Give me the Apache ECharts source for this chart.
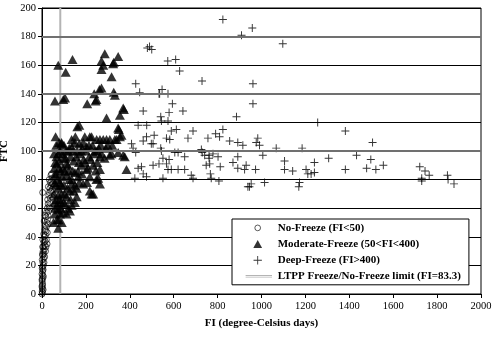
<!DOCTYPE html>
<html>
<head>
<meta charset="utf-8">
<script src="https://cdn.jsdelivr.net/npm/echarts@6/dist/echarts.min.js"></script>
<style>html,body{margin:0;padding:0;background:#fff}#c{width:495px;height:337px}</style>
</head>
<body>
<div id="c"></div>
<script>
// ---- data (FI, FTC) ----
var noFreeze = [
  [0,0],[1,2],[2,4],[0,5],[3,7],[1,9],[2,11],[4,13],[0,14],[3,16],[5,17],[2,19],[6,20],[4,22],[1,24],
  [7,25],[3,27],[8,28],[5,30],[10,31],[6,33],[12,34],[9,36],[14,37],[4,38],[11,40],[16,41],[8,42],
  [18,44],[13,45],[20,47],[15,48],[22,50],[10,51],[25,52],[18,54],[27,55],[21,57],[30,58],[24,60],
  [32,61],[28,63],[35,64],[26,66],[38,67],[31,69],[3,71],[34,71],[40,72],[36,74],[29,75],[42,76],
  [38,78],[44,79],[33,80],[46,81],[41,83],[44,84],[48,77],[12,26],[16,30],[20,38],[24,43],[9,22],
  [6,12],[2,1],[1,6],[5,3],[18,33],[28,49],[23,35],[14,55],[36,60],[45,68],[47,73],[0,10],[1,18],[2,28],[3,33]
];
var moderateFreeze = [
  [74,160],[108,155],[139,164],[59,135],[105,137],[97,136],[286,168],[271,163],[279,160],[271,157],
  [347,166],[327,162],[317,152],[271,144],[262,143],[238,140],[248,136],[206,133],[327,141],[332,139],
  [370,130],[355,125],[294,123],[170,118],[161,117],[347,116],[362,111],[89,106],[135,108],[188,106],
  [218,110],[249,108],[279,108],[309,108],[332,108],[355,110],[135,103],[170,105],[203,103],[82,100],
  [120,100],[173,98],[241,100],[271,98],[317,98],[370,97],[74,98],[309,97],[347,99],[377,96],[264,96],
  [385,87],[67,91],[112,91],[233,90],[203,87],[264,87],[59,84],[112,83],[165,82],[218,82],[256,81],
  [82,78],[135,77],[188,77],[264,77],[74,74],[158,74],[218,72],[233,70],[127,72],[74,69],[112,68],
  [158,68],[59,64],[105,63],[150,64],[74,59],[127,58],[82,56],[74,46],[89,105],[150,106],[226,110],
  [264,108],[294,108],[340,108],[248,80],[226,70],[244,135],[373,129],[350,115],[324,161],
  [100,95],[145,93],[190,94],[95,88],[140,86],[180,90],[215,96],[230,104],[200,100],[60,92],[85,86],
  [125,80],[100,76],[150,85],[170,78],[205,78],[245,86],[290,102],[120,60],[95,57],[135,62],[62,76],
  [90,70],[110,100],[160,100],[195,110],[250,100],[285,95],[100,104],[65,104],[55,98],[70,80],[55,70],
  [85,64],[68,52],[60,60],
  [58,78],[66,84],[78,88],[92,82],[104,86],[118,90],[130,96],[142,100],[156,96],[168,92],[182,84],
  [196,92],[210,88],[222,94],[236,98],[252,92],[268,104],[300,104],[320,104],[66,96],[80,93],[94,98],
  [108,95],[122,86],[136,80],[150,76],[164,86],[178,100],[56,88],[88,76],[102,70],[116,74],[130,66],
  [144,72],[86,60],[98,64],[112,56],[64,66],[76,52],[90,50],[58,56],[70,62],[52,50],[80,66],[124,102],
  [152,110],[184,102],[214,104],[258,102],[62,110],[78,106]
];
var deepFreeze = [
  [824,192],[958,186],[909,181],[1097,175],[480,172],[500,171],[490,173],[573,163],[609,164],[627,156],
  [427,147],[729,149],[961,147],[445,141],[533,140],[547,143],[536,140],[574,140],[961,133],[594,133],
  [461,128],[579,127],[642,128],[886,124],[541,124],[1256,120],[544,121],[574,121],[438,118],[477,118],
  [1382,114],[589,114],[612,115],[688,114],[824,115],[791,112],[809,110],[476,110],[511,111],[567,109],
  [582,108],[665,109],[756,109],[855,107],[892,106],[915,104],[983,109],[976,106],[991,104],[1067,102],
  [1185,102],[1506,106],[461,107],[498,105],[408,105],[415,102],[427,99],[506,105],[541,102],[544,100],
  [605,99],[620,99],[726,101],[730,99],[741,97],[761,97],[779,98],[802,96],[761,95],[892,96],[1006,97],
  [1433,97],[1306,95],[1498,94],[551,95],[650,96],[579,94],[533,91],[506,90],[567,91],[589,87],[620,87],
  [650,87],[680,83],[688,81],[574,87],[748,90],[764,91],[812,89],[767,84],[806,79],[870,92],[892,88],
  [930,90],[938,75],[771,81],[438,88],[453,89],[461,84],[476,82],[423,81],[551,81],[1241,92],[1105,93],
  [923,87],[973,87],[1105,87],[1142,86],[1203,87],[1211,84],[1226,84],[1241,85],[1382,87],[1479,88],
  [1521,87],[1555,90],[1721,89],[1745,86],[1764,83],[1730,81],[1730,79],[1847,83],[1877,77],[1850,80],
  [1014,78],[953,77],[945,75],[1173,78],[1170,75]
];
var ltppLimit = 83.3;
var xTicks = {min: 0, max: 2000, interval: 200};
var yTicks = {min: 0, max: 200, interval: 20};
var seriesNames = ['No-Freeze (FI<50)', 'Moderate-Freeze (50<FI<400)', 'Deep-Freeze (FI>400)', 'LTPP Freeze/No-Freeze limit (FI=83.3)'];

var SERIF = '"Liberation Serif","Times New Roman",serif';
var plusPath = 'path://M44,0H56V44H100V56H56V100H44V56H0V44H44Z';
// legend icons: invisible bounding box 260x100 so the mark keeps its own size
var legCircle = 'path://M0,0M260,100M130,24A26,26,0,1,1,129.9,24Z';
var legTriangle = 'path://M0,0M260,100M130,10L170,84L90,84Z';
var legPlus = 'path://M0,0M260,100M126,12H134V46H168V54H134V88H126V54H92V46H126Z';
var legLine = 'path://M0,0M260,100M20,38H260V48H20ZM20,54H260V62H20Z';

var chart = echarts.init(document.getElementById('c'), null, {renderer: 'canvas'});
chart.setOption({
  animation: false,
  backgroundColor: '#fff',
  grid: {left: 42, right: 14, top: 8, bottom: 43, containLabel: false, outerBoundsMode: 'none',
    show: true, borderColor: '#000', borderWidth: 1, backgroundColor: 'transparent'},
  xAxis: {
    type: 'value', min: xTicks.min, max: xTicks.max, interval: xTicks.interval,
    name: 'FI (degree-Celsius days)', nameLocation: 'middle', nameGap: 24,
    nameTextStyle: {fontFamily: SERIF, fontWeight: 'bold', fontSize: 11, color: '#000'},
    axisLine: {lineStyle: {color: '#000', width: 1}},
    axisTick: {show: true, inside: false, length: 4, lineStyle: {color: '#000'}},
    axisLabel: {fontFamily: SERIF, fontSize: 10.5, color: '#000', margin: 7, formatter: function (v) { return String(v); }},
    splitLine: {show: false}
  },
  yAxis: {
    type: 'value', min: yTicks.min, max: yTicks.max, interval: yTicks.interval,
    name: 'FTC', nameLocation: 'middle', nameGap: 28, nameRotate: 90,
    nameTextStyle: {fontFamily: SERIF, fontWeight: 'bold', fontSize: 11, color: '#000'},
    axisLine: {lineStyle: {color: '#000', width: 1}},
    axisTick: {show: true, inside: false, length: 4, lineStyle: {color: '#000'}},
    axisLabel: {fontFamily: SERIF, fontSize: 10.5, color: '#000', margin: 6, formatter: function (v) { return String(v); }},
    splitLine: {show: true, lineStyle: {color: '#000', width: 1}}
  },
  legend: {
    orient: 'vertical', left: 232, top: 219,
    padding: [3, 8, 3, 11],
    backgroundColor: '#fff', borderColor: '#000', borderWidth: 1,
    itemWidth: 30, itemHeight: 11, itemGap: 5,
    textStyle: {fontFamily: SERIF, fontWeight: 'bold', fontSize: 11, color: '#000'},
    data: [
      {name: seriesNames[0], icon: legCircle, itemStyle: {color: 'rgba(255,255,255,0)', borderColor: '#000', borderWidth: 0.8}},
      {name: seriesNames[1], icon: legTriangle, itemStyle: {color: '#000', borderWidth: 0}},
      {name: seriesNames[2], icon: legPlus, itemStyle: {color: '#000', borderWidth: 0}},
      {name: seriesNames[3], icon: legLine, itemStyle: {color: '#b4b4b4', borderWidth: 0}}
    ]
  },
  series: [
    {
      name: seriesNames[3], type: 'line', data: [[ltppLimit, yTicks.min], [ltppLimit, yTicks.max]],
      symbol: 'none', lineStyle: {color: '#b4b4b4', width: 2}, itemStyle: {color: '#b4b4b4'}, z: 1,
      markLine: {
        silent: true, symbol: 'none', label: {show: false},
        lineStyle: {color: '#707070', width: 2, type: 'solid'},
        data: [{yAxis: 100}, {yAxis: 140}, {yAxis: 180}]
      }
    },
    {
      name: seriesNames[0], type: 'scatter', data: noFreeze, symbol: 'circle', symbolSize: 6,
      itemStyle: {color: 'rgba(255,255,255,0)', borderColor: '#000', borderWidth: 0.8}, z: 3
    },
    {
      name: seriesNames[1], type: 'scatter', data: moderateFreeze, symbol: 'triangle', symbolSize: [10, 9],
      itemStyle: {color: '#000'}, z: 3
    },
    {
      name: seriesNames[2], type: 'scatter', data: deepFreeze, symbol: plusPath, symbolSize: 8,
      itemStyle: {color: '#000'}, z: 3
    }
  ]
});
</script>
</body>
</html>
